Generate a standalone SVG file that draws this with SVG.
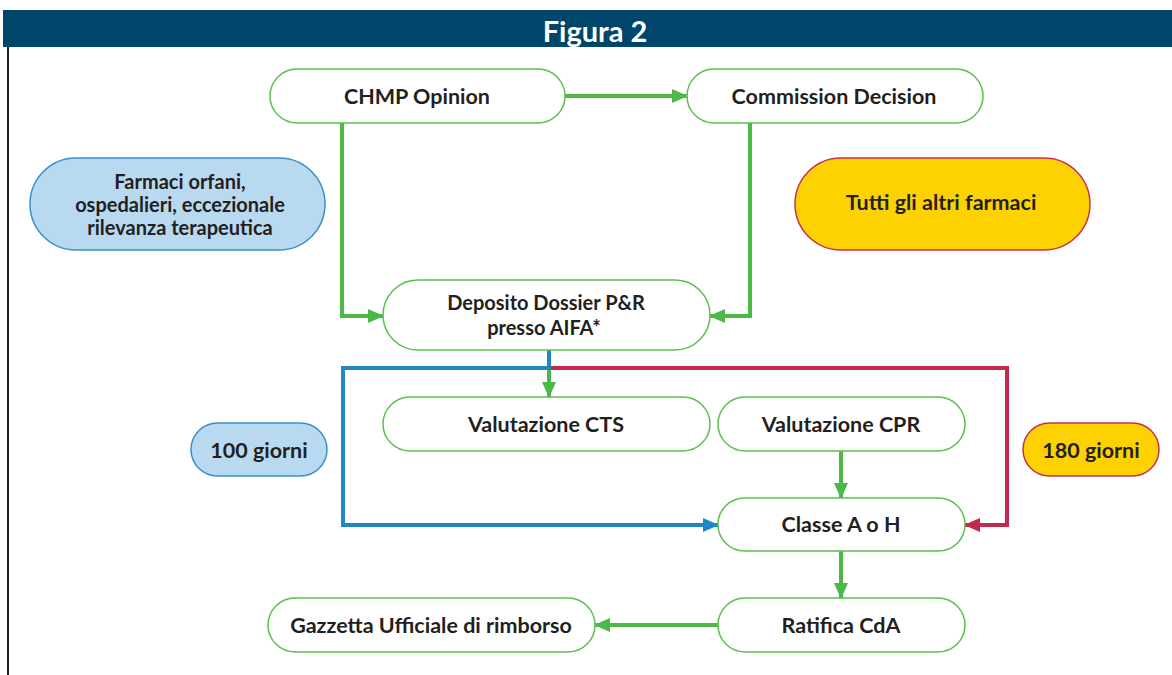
<svg xmlns="http://www.w3.org/2000/svg" width="1172" height="675" viewBox="0 0 1172 675">
<defs>
<style>
.t{font-family:Lato,"Open Sans","Liberation Sans",sans-serif;font-weight:bold;font-size:21.5px;fill:#231f20;text-anchor:middle;dominant-baseline:central}
.m{font-size:20px}
.n{fill:#fff;stroke:#5cbf4f;stroke-width:1.5}
.b{fill:#b9d9f1;stroke:#3a8fc9;stroke-width:1.5}
.y{fill:#fdd200;stroke:#c8314f;stroke-width:1.5}
.g{fill:none;stroke:#4cb848;stroke-width:4}
.bl{fill:none;stroke:#1f88c4;stroke-width:4}
.rd{fill:none;stroke:#c42a4c;stroke-width:4}
</style>
<marker id="ag" markerUnits="userSpaceOnUse" markerWidth="16" markerHeight="16" viewBox="0 0 16 16" refX="15" refY="8" orient="auto"><path d="M0,1 L16,8 L0,15 Z" fill="#4cb848"/></marker>
<marker id="ab" markerUnits="userSpaceOnUse" markerWidth="16" markerHeight="16" viewBox="0 0 16 16" refX="15" refY="8" orient="auto"><path d="M0,1 L16,8 L0,15 Z" fill="#1f88c4"/></marker>
<marker id="ar" markerUnits="userSpaceOnUse" markerWidth="16" markerHeight="16" viewBox="0 0 16 16" refX="15" refY="8" orient="auto"><path d="M0,1 L16,8 L0,15 Z" fill="#c42a4c"/></marker>
</defs>
<rect width="1172" height="675" fill="#fff"/>
<g id="header">
<rect x="3" y="10" width="1169" height="37" fill="#00466a"/>
<text x="595" y="30" style="font-family:Lato,'Liberation Sans',sans-serif;font-weight:bold;font-size:29px;fill:#fff;text-anchor:middle;dominant-baseline:central">Figura 2</text>
<line x1="8" y1="47" x2="8" y2="675" stroke="#231f20" stroke-width="2"/>
</g>
<g id="connectors">
<path class="g" d="M565,96 H687" marker-end="url(#ag)"/>
<path class="g" d="M342,123 V316 H383" marker-end="url(#ag)"/>
<path class="g" d="M750,123 V316 H710" marker-end="url(#ag)"/>
<path class="rd" d="M549,368 H1007 V525 H965" marker-end="url(#ar)"/>
<path class="bl" d="M549,350 V368 H343 V525 H718" marker-end="url(#ab)"/>
<path class="g" d="M549,370 V397" marker-end="url(#ag)"/>
<path class="g" d="M841,451 V498" marker-end="url(#ag)"/>
<path class="g" d="M841,551 V598" marker-end="url(#ag)"/>
<path class="g" d="M718,625 H595" marker-end="url(#ag)"/>
</g>
<g id="chmp"><rect class="n" x="270" y="69" width="295" height="54" rx="27"/><text class="t" x="417" y="96">CHMP Opinion</text></g>
<g id="commission"><rect class="n" x="687" y="69" width="296" height="54" rx="27"/><text class="t" x="834" y="96">Commission Decision</text></g>
<g id="orfani"><rect class="b" x="30" y="158" width="295" height="92" rx="46"/><text class="t m" x="180" y="181">Farmaci orfani,</text><text class="t m" x="180" y="204">ospedalieri, eccezionale</text><text class="t m" x="180" y="227">rilevanza terapeutica</text></g>
<g id="altri"><rect class="y" x="795" y="158" width="295" height="92" rx="46"/><text class="t" x="941" y="202">Tutti gli altri farmaci</text></g>
<g id="deposito"><rect class="n" x="383" y="280" width="327" height="70" rx="35"/><text class="t m" x="546" y="302">Deposito Dossier P&amp;R</text><text class="t m" x="544" y="327">presso AIFA*</text></g>
<g id="cts"><rect class="n" x="383" y="397" width="327" height="54" rx="27"/><text class="t" x="546" y="424">Valutazione CTS</text></g>
<g id="cpr"><rect class="n" x="718" y="397" width="247" height="54" rx="27"/><text class="t" x="841" y="424">Valutazione CPR</text></g>
<g id="g100"><rect class="b" x="191" y="423" width="136" height="53" rx="26.5"/><text class="t" x="259" y="450">100 giorni</text></g>
<g id="g180"><rect class="y" x="1023" y="423" width="136" height="53" rx="26.5"/><text class="t" x="1091" y="450">180 giorni</text></g>
<g id="classe"><rect class="n" x="718" y="498" width="247" height="53" rx="26.5"/><text class="t" x="841" y="524">Classe A o H</text></g>
<g id="gazzetta"><rect class="n" x="268" y="598" width="327" height="54" rx="27"/><text class="t" x="431" y="625">Gazzetta Ufficiale di rimborso</text></g>
<g id="ratifica"><rect class="n" x="718" y="598" width="247" height="54" rx="27"/><text class="t" x="841" y="625">Ratifica CdA</text></g>
</svg>
